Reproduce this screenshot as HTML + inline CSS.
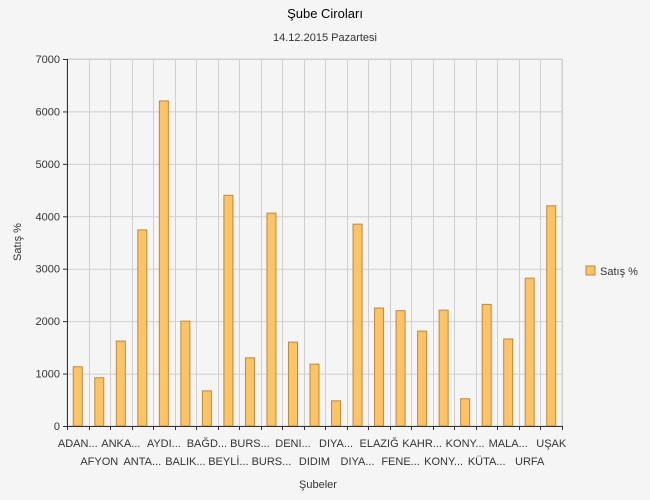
<!DOCTYPE html>
<html><head><meta charset="utf-8"><style>
body{margin:0;background:#f5f5f5;}
svg{display:block;font-family:"Liberation Sans",sans-serif;}
</style></head><body>
<svg id="c" width="650" height="500">
<text x="325" y="18" text-anchor="middle" font-size="13" fill="#000">Şube Ciroları</text>
<text x="325" y="41" text-anchor="middle" font-size="11" fill="#333">14.12.2015 Pazartesi</text>
<text x="318" y="488" text-anchor="middle" font-size="11" fill="#333">Şubeler</text>
<text transform="translate(21,242) rotate(-90)" text-anchor="middle" font-size="11" fill="#333">Satış %</text>
<g id="grid"></g>
<g id="bars"></g>
<g id="axes"></g>
<g>
<rect x="586" y="266" width="9" height="9" fill="#fec365" stroke="#b88a3e"/>
<text x="600" y="275" font-size="11" fill="#333">Satış %</text>
</g>
</svg>
<script>
const categories=["ADAN...","AFYON","ANKA...","ANTA...","AYDI...","BALIK...","BAĞD...","BEYLİ...","BURS...","BURS...","DENI...","DIDIM","DIYA...","DIYA...","ELAZIĞ","FENE...","KAHR...","KONY...","KONY...","KÜTA...","MALA...","URFA","UŞAK"];
const values=[1130,920,1620,3740,6200,2000,670,4400,1300,4060,1600,1180,480,3850,2250,2200,1810,2210,520,2320,1660,2820,4200];
const yTicks=[0,1000,2000,3000,4000,5000,6000,7000];
const L=67,R=562,T=59,B=426,YMAX=7000;
const NS="http://www.w3.org/2000/svg";
const y=v=>B-(v/YMAX)*(B-T);
const slot=(R-L)/categories.length;
const x=i=>L+slot*i;
function mk(t,a,p){const e=document.createElementNS(NS,t);for(const k in a)e.setAttribute(k,a[k]);p.appendChild(e);return e;}
const grid=document.getElementById('grid'),bars=document.getElementById('bars'),axes=document.getElementById('axes');
mk('rect',{x:L,y:T,width:R-L,height:B-T,fill:'#f5f5f5',stroke:'#cfcfcf'},grid);
yTicks.forEach(v=>{
 const l=mk('line',{x1:L,x2:R,y1:y(v)+.5,y2:y(v)+.5,stroke:'#cfcfcf'},grid);
 
 
 const t=mk('text',{x:L-7,y:y(v)+4,'text-anchor':'end','font-size':11,fill:'#333'},axes);
 t.textContent=v;
 
 
 mk('line',{x1:L-4,x2:L,y1:y(v)+.5,y2:y(v)+.5,stroke:'#333'},axes);
});
for(let i=0;i<=categories.length;i++){
 const xx=Math.round(x(i))+.5;
 const g=mk('line',{x1:xx,x2:xx,y1:T,y2:B,stroke:'#cfcfcf'},grid);
 
 
 mk('line',{x1:xx,x2:xx,y1:B,y2:B+4,stroke:'#333'},axes);
}
values.forEach((v,i)=>{
 const cx=x(i)+slot/2;
 const r=mk('rect',{x:cx-4.5,y:y(v),width:9,height:B-y(v),fill:'#fec365',stroke:'#b88a3e','stroke-width':1},bars);
 
 
});
categories.forEach((c,i)=>{
 const cx=x(i)+slot/2;
 const t=mk('text',{x:cx,y:i%2===0?447:465,'text-anchor':'middle','font-size':11,fill:'#333'},axes);
 t.textContent=c;
 
 
});
mk('line',{x1:L+.5,x2:L+.5,y1:T,y2:B,stroke:'#333'},axes);
mk('line',{x1:L,x2:R,y1:B+.5,y2:B+.5,stroke:'#333'},axes);
</script>
</body></html>
